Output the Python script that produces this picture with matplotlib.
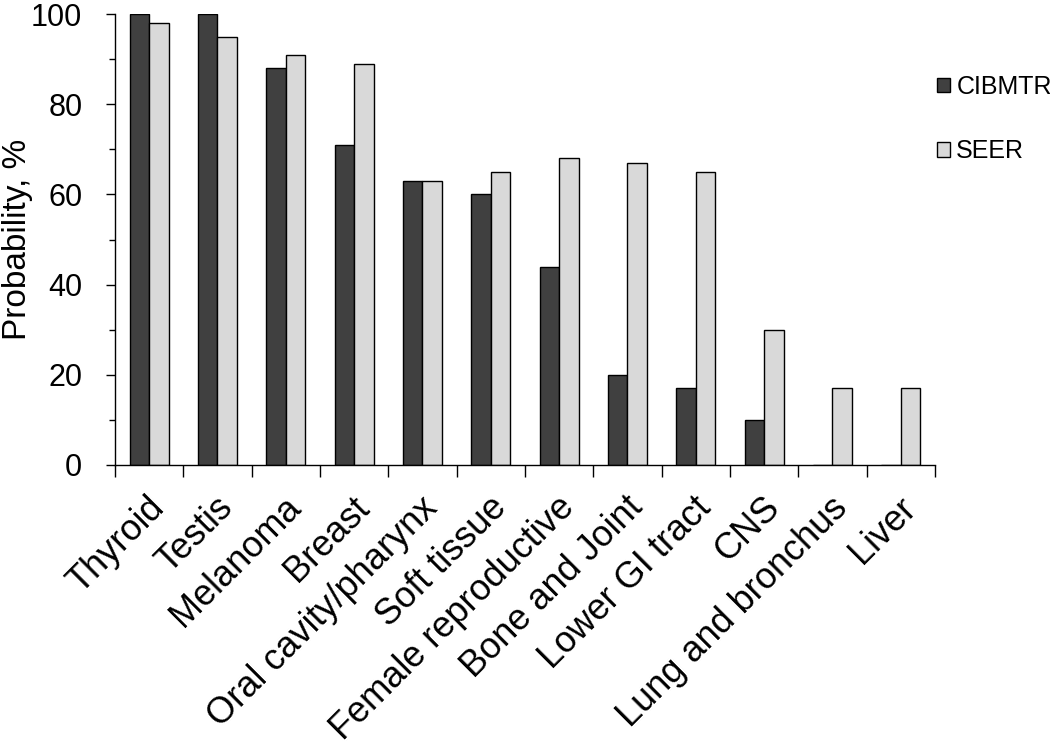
import numpy as np
import matplotlib
matplotlib.use('Agg')
import matplotlib.pyplot as plt
from matplotlib.patches import Patch
from matplotlib.transforms import ScaledTranslation

# Data
categories = ['Thyroid', 'Testis', 'Melanoma', 'Breast', 'Oral cavity/pharynx',
              'Soft tissue', 'Female reproductive', 'Bone and Joint',
              'Lower GI tract', 'CNS', 'Lung and bronchus', 'Liver']
cibmtr = [100, 100, 88, 71, 63, 60, 44, 20, 17, 10, 0, 0]
seer = [98, 95, 91, 89, 63, 65, 68, 67, 65, 30, 17, 17]
series_names = ['CIBMTR', 'SEER']
series_colors = ['#404040', '#d9d9d9']

plt.rcParams['font.family'] = ['Liberation Sans', 'DejaVu Sans']

fig = plt.figure(figsize=(10.5, 7.53), dpi=100)
ax = fig.add_axes([115 / 1050, 1 - 465 / 753, 820 / 1050, 451 / 753])

x = np.arange(len(categories))
width = 0.284
for vals, off, col in zip([cibmtr, seer], [-width / 2, width / 2], series_colors):
    ax.bar(x + off, vals, width, color=col, edgecolor='black', linewidth=1.0, zorder=2)

ax.set_xlim(-0.5, len(categories) - 0.5)
ax.set_ylim(0, 100)

# spines
for side in ['top', 'right']:
    ax.spines[side].set_visible(False)
for side in ['left', 'bottom']:
    ax.spines[side].set_linewidth(1.0)

# y axis ticks
ax.set_yticks(np.arange(0, 101, 20))
ax.set_yticks(np.arange(10, 100, 20), minor=True)
ax.tick_params(axis='y', which='major', direction='out', length=6.5, width=1.0,
               labelsize=22, pad=17)
ax.tick_params(axis='y', which='minor', direction='out', length=4.3, width=1.0)
ax.set_ylabel('Probability, %', fontsize=24)
ax.yaxis.set_label_coords(-0.100, 0.5)

# x axis: boundary ticks (major) and labels at centers (minor)
ax.set_xticks(np.arange(-0.5, len(categories), 1.0))
ax.set_xticklabels([])
ax.set_xticks(x, minor=True)
ax.set_xticklabels(categories, minor=True, rotation=45, ha='right',
                   va='center', rotation_mode='anchor', fontsize=26)
ax.tick_params(axis='x', which='major', direction='out', length=8.5, width=1.0)
ax.tick_params(axis='x', which='minor', length=0, pad=27)
offset = ScaledTranslation(0.10, 0, fig.dpi_scale_trans)
for lbl in ax.get_xticklabels(minor=True):
    lbl.set_transform(lbl.get_transform() + offset)

# legend
handles = [Patch(facecolor=c, edgecolor='black', linewidth=1.0) for c in series_colors]
fig.legend(handles, series_names, loc='upper left',
           bbox_to_anchor=(937 / 1050, 1 - 75 / 753), frameon=False,
           fontsize=18, handlelength=0.52, handleheight=0.52,
           handletextpad=0.25, labelspacing=1.62, borderpad=0, borderaxespad=0)

fig.savefig('out.png', dpi=100)
plt.close(fig)
